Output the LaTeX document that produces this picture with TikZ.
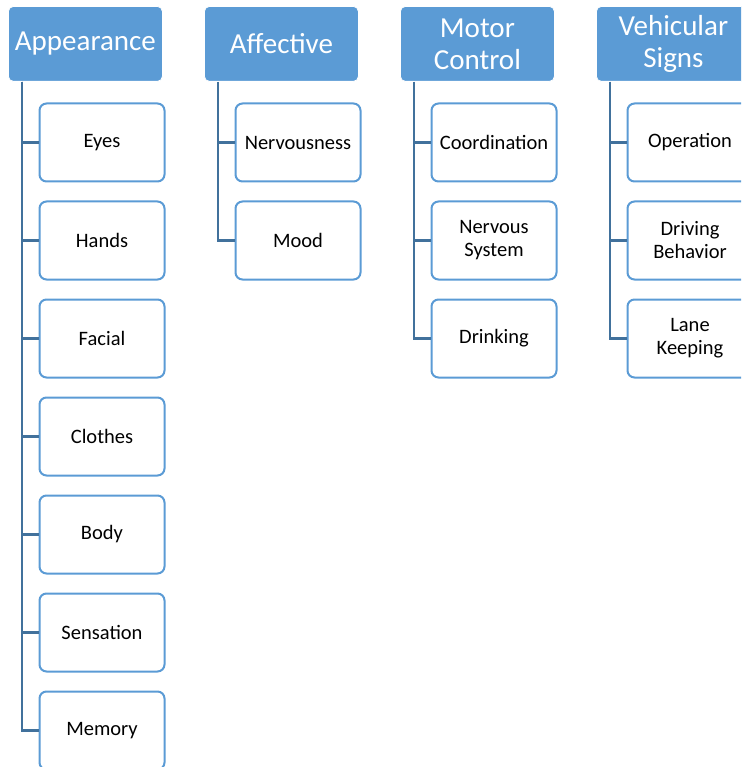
\documentclass[tikz,border=0pt]{standalone}
\usepackage{fontspec}
\setmainfont{Carlito}
\usetikzlibrary{positioning}

\definecolor{headFill}{HTML}{5B9BD5}
\definecolor{itemBorder}{HTML}{5B9BD5}
\definecolor{linkColour}{HTML}{41719C}

\begin{document}
\begin{tikzpicture}[x=1pt, y=1pt,
    header/.style={draw=white, line width=0.8pt, fill=headFill, rounded corners=5pt,
        minimum width=154pt, minimum height=75pt, inner sep=0pt, align=center,
        text=white, font=\fontsize{29}{32}\selectfont},
    item/.style={draw=itemBorder, line width=2pt, fill=white, rounded corners=7pt,
        minimum width=125pt, minimum height=78pt, inner sep=0pt, align=center,
        font=\fontsize{20.5}{23}\selectfont},
    link/.style={draw=linkColour, line width=2.2pt}]

    % Page size and clipping
    \useasboundingbox (0,0) rectangle (741,-767);
    \clip (0,0) rectangle (741,-767);

    % Draw the four category headers
    \node[header, anchor=north west] (app) at (8,-6) {Appearance};
    \node[header, anchor=north west] (aff) at (204,-6) {Affective};
    \node[header, anchor=north west] (mot) at (400,-6) {Motor\\Control};
    \node[header, anchor=north west] (veh) at (596,-6) {Vehicular\\Signs};

    % Appearance items
    \foreach \txt [count=\i] in {Eyes, Hands, Facial, Clothes, Body, Sensation, Memory}
        \node[item, anchor=north west] (app-\i) at (38.5,{-102.5-98*(\i-1)}) {\txt};

    % Affective items
    \foreach \txt [count=\i] in {Nervousness, Mood}
        \node[item, anchor=north west] (aff-\i) at (234.5,{-102.5-98*(\i-1)}) {\txt};

    % Motor control items
    \foreach \txt [count=\i] in {Coordination, {Nervous\\System}, Drinking}
        \node[item, anchor=north west] (mot-\i) at (430.5,{-102.5-98*(\i-1)}) {\txt};

    % Vehicular signs items
    \foreach \txt [count=\i] in {Operation, {Driving\\Behavior}, {Lane\\Keeping}}
        \node[item, anchor=north west] (veh-\i) at (626.5,{-102.5-98*(\i-1)}) {\txt};

    % Connectors from each header down to its items
    \foreach \i in {1,...,7}
        \draw[link] ([xshift=14pt]app.south west) |- (app-\i.west);
    \foreach \i in {1,2}
        \draw[link] ([xshift=14pt]aff.south west) |- (aff-\i.west);
    \foreach \i in {1,2,3}
        \draw[link] ([xshift=14pt]mot.south west) |- (mot-\i.west);
    \foreach \i in {1,2,3}
        \draw[link] ([xshift=14pt]veh.south west) |- (veh-\i.west);

\end{tikzpicture}
\end{document}
